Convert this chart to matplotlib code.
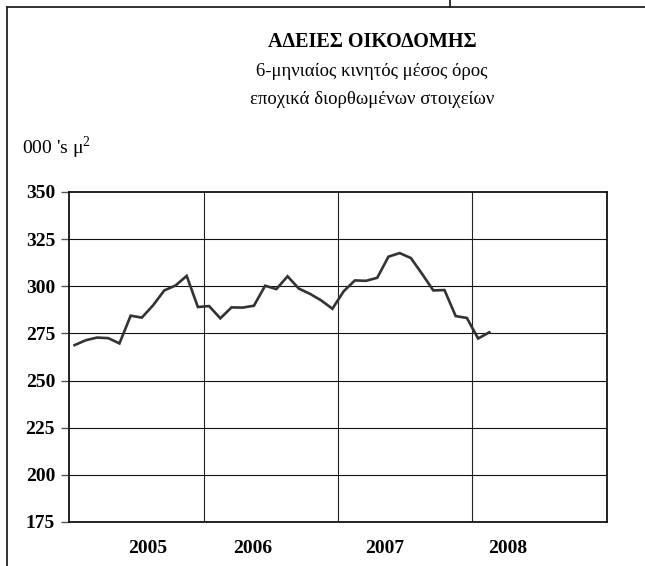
import numpy as np
import matplotlib
matplotlib.use('Agg')
from matplotlib import pyplot as plt
from matplotlib.lines import Line2D

plt.rcParams['font.family'] = ['Liberation Serif', 'DejaVu Serif']
plt.rcParams['mathtext.fontset'] = 'custom'
plt.rcParams['mathtext.rm'] = 'Liberation Serif'

# data: 6-month moving average, Jan 2005 - Feb 2008 (000 's m2)
values = [
    268.8, 271.4, 272.8, 272.5, 269.7, 284.4, 283.4, 289.9, 297.8, 300.4, 305.5, 289.0,
    289.5, 283.0, 288.8, 288.7, 289.7, 300.3, 298.5, 305.3, 298.8, 296.0, 292.5, 288.1,
    297.3, 303.1, 302.9, 304.5, 315.7, 317.6, 315.0, 306.6, 297.8, 298.0, 284.2, 283.2,
    272.3, 275.6,
]
years = ['2005', '2006', '2007', '2008']
year_label_pos = [7.0, 16.4, 28.2, 39.1]
y_ticks = [175, 200, 225, 250, 275, 300, 325, 350]
n_months = 48

W, H = 645, 566
fig = plt.figure(figsize=(W / 100, H / 100), dpi=100)
ax = fig.add_axes([69 / W, 1 - 522 / H, (607 - 69) / W, (522 - 192) / H])

x = np.arange(len(values)) + 0.5
ax.plot(x, values, color='#333333', lw=1.9, solid_joinstyle='miter', zorder=3)

ax.set_xlim(0, n_months)
ax.set_ylim(y_ticks[0], y_ticks[-1])

# grid
for yv in y_ticks[1:-1]:
    ax.axhline(yv, color='#111111', lw=0.8, zorder=1)
for xv in range(12, n_months, 12):
    ax.axvline(xv, color='#222222', lw=0.8, zorder=1)

ax.set_yticks(y_ticks)
ax.set_yticklabels([str(v) for v in y_ticks], fontsize=14, fontweight='bold')
ax.tick_params(axis='y', direction='out', length=6, width=1, pad=4, color='#555555')

ax.set_xticks(year_label_pos)
ax.set_xticklabels(years, fontsize=14, fontweight='bold')
ax.tick_params(axis='x', length=0, pad=13)

for side in ['left', 'bottom', 'right', 'top']:
    ax.spines[side].set_color('#111111')
    ax.spines[side].set_linewidth(1.3)

# titles
fig.text(372 / W, 1 - 42 / H, 'ΑΔΕΙΕΣ ΟΙΚΟΔΟΜΗΣ', ha='center', va='center',
         fontsize=14.5, fontweight='bold')
fig.text(372 / W, 1 - 72 / H, '6-μηνιαίος κινητός μέσος όρος', ha='center', va='center',
         fontsize=13.5)
fig.text(372 / W, 1 - 100 / H, 'εποχικά διορθωμένων στοιχείων', ha='center', va='center',
         fontsize=13.5)
fig.text(22 / W, 1 - 148 / H, "000 's μ$^\\mathregular{2}$", ha='left', va='center',
         fontsize=14)

# outer frame (cut off on right and bottom)
fig.add_artist(Line2D([7 / W, 7 / W], [0, 1 - 7 / H], transform=fig.transFigure,
                      color='#222222', lw=1.3))
fig.add_artist(Line2D([7 / W, 1], [1 - 7 / H, 1 - 7 / H], transform=fig.transFigure,
                      color='#222222', lw=1.3))
fig.add_artist(Line2D([450 / W, 450 / W], [1 - 7 / H, 1], transform=fig.transFigure,
                      color='#222222', lw=1.3))

fig.savefig('out.png', dpi=100)
